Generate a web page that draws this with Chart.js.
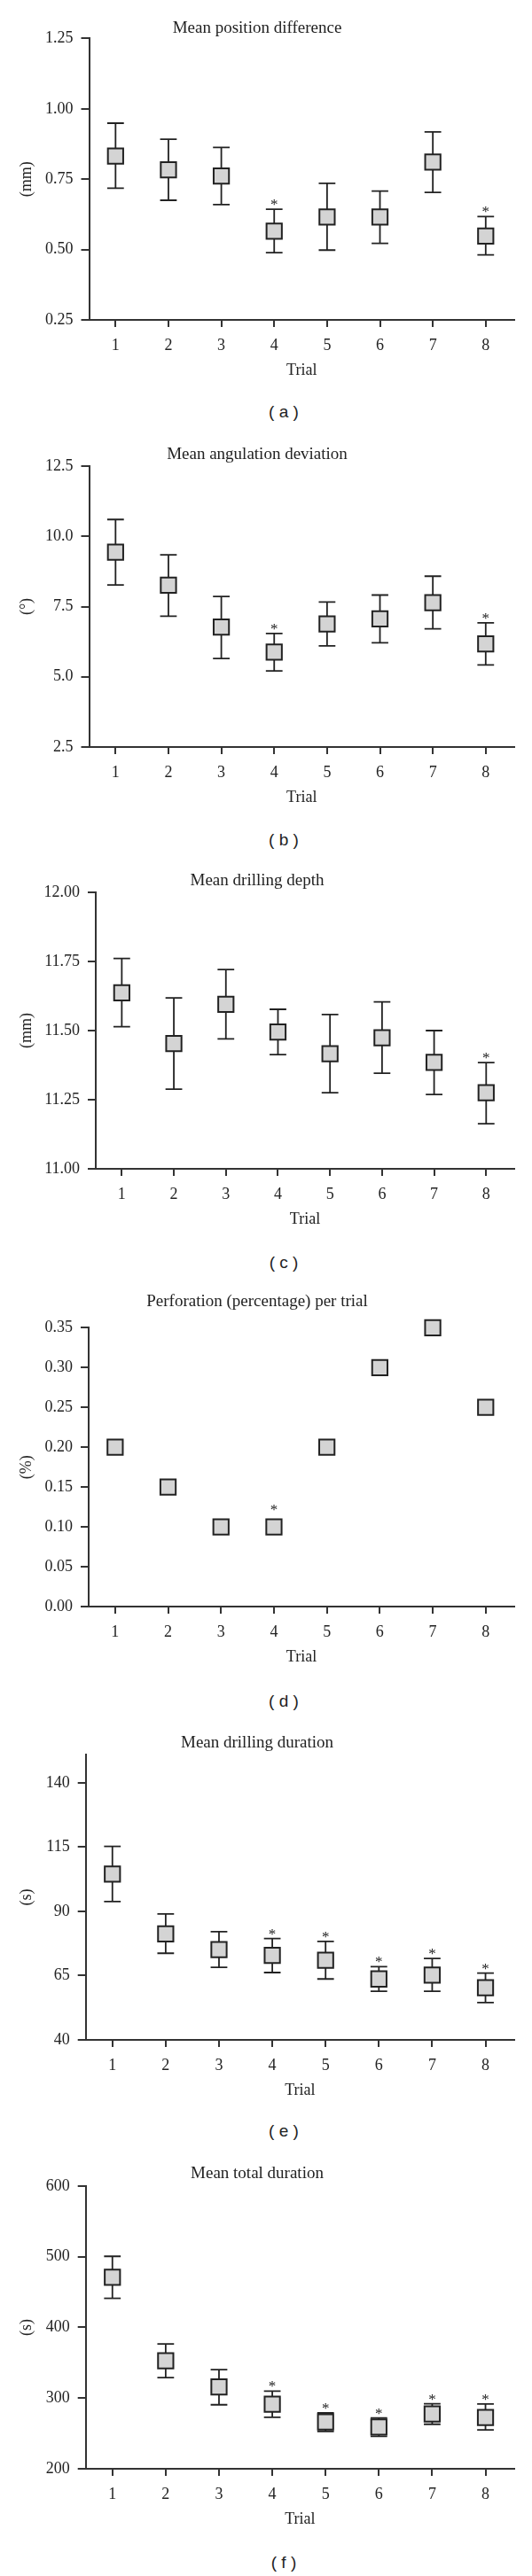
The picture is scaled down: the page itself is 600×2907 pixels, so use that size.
<!DOCTYPE html>
<html lang="en">
  <head>
    <meta charset="UTF-8" />
    <meta name="viewport" content="width=device-width, initial-scale=1.0" />
    <title>Trial results</title>
    <script src="https://cdn.jsdelivr.net/npm/chart.js"></script>
    <style>
      body {
        margin: 0;
        background-color: #ffffff;
      }
      .page {
        position: relative;
        width: 600px;
        height: 2907px;
      }
      .panel {
        position: absolute;
        left: 0;
        width: 600px;
      }
      .caption {
        position: absolute;
        left: 220px;
        width: 200px;
        text-align: center;
        font-family: "Liberation Sans", Arial, sans-serif;
        font-size: 19px;
        line-height: 22px;
        color: #222;
      }
    </style>
  </head>
  <body>
    <div class="page" id="page"></div>

    <script>
      const trials = [1, 2, 3, 4, 5, 6, 7, 8];
      const trialLabels = ["1", "2", "3", "4", "5", "6", "7", "8"];

      // (a) position difference, mm
      const posMean = [0.832, 0.783, 0.761, 0.565, 0.616, 0.616, 0.811, 0.548];
      const posUpper = [0.949, 0.892, 0.863, 0.643, 0.735, 0.708, 0.918, 0.617];
      const posLower = [0.718, 0.675, 0.660, 0.489, 0.498, 0.522, 0.703, 0.481];
      const posStars = [4, 8];
      const posTicks = ["0.25", "0.50", "0.75", "1.00", "1.25"];

      // (b) angulation deviation, degrees
      const angMean = [9.44, 8.26, 6.77, 5.88, 6.88, 7.06, 7.64, 6.17];
      const angUpper = [10.6, 9.34, 7.86, 6.54, 7.66, 7.91, 8.58, 6.92];
      const angLower = [8.27, 7.16, 5.65, 5.21, 6.1, 6.21, 6.71, 5.42];
      const angStars = [4, 8];
      const angTicks = ["2.5", "5.0", "7.5", "10.0", "12.5"];

      // (c) drilling depth, mm
      const depthMean = [11.637, 11.453, 11.595, 11.495, 11.416, 11.474, 11.385, 11.275];
      const depthUpper = [11.761, 11.618, 11.721, 11.577, 11.558, 11.604, 11.5, 11.384];
      const depthLower = [11.514, 11.288, 11.47, 11.413, 11.275, 11.346, 11.269, 11.163];
      const depthStars = [8];
      const depthTicks = ["11.00", "11.25", "11.50", "11.75", "12.00"];

      // (d) perforation, %
      const perfValues = [0.2, 0.15, 0.1, 0.1, 0.2, 0.3, 0.35, 0.25];
      const perfStars = [4];
      const perfTicks = ["0.00", "0.05", "0.10", "0.15", "0.20", "0.25", "0.30", "0.35"];

      // (e) drilling duration, s
      const drillMean = [104.5, 81.2, 75.1, 72.9, 71.0, 63.7, 65.2, 60.3];
      const drillUpper = [115.3, 89.0, 82.1, 79.4, 78.3, 68.5, 71.7, 66.0];
      const drillLower = [93.8, 73.7, 68.2, 66.2, 63.7, 58.9, 58.9, 54.5];
      const drillStars = [4, 5, 6, 7, 8];
      const drillTicks = ["40", "65", "90", "115", "140"];

      // (f) total duration, s
      const totalMean = [471, 352.8, 315.7, 291.3, 266.3, 259.2, 277.5, 272.5];
      const totalUpper = [500.6, 376.6, 340.3, 310, 279, 272, 292, 291.7];
      const totalLower = [441.3, 329, 290.6, 272.9, 253, 246, 263, 255];
      const totalStars = [4, 5, 6, 7, 8];
      const totalTicks = ["200", "300", "400", "500", "600"];

      const panels = [
        { title: "Mean position difference", unit: "(mm)", caption: "( a )", mean: posMean, upper: posUpper, lower: posLower, stars: posStars, ticks: posTicks },
        { title: "Mean angulation deviation", unit: "(°)", caption: "( b )", mean: angMean, upper: angUpper, lower: angLower, stars: angStars, ticks: angTicks },
        { title: "Mean drilling depth", unit: "(mm)", caption: "( c )", mean: depthMean, upper: depthUpper, lower: depthLower, stars: depthStars, ticks: depthTicks },
        { title: "Perforation (percentage) per trial", unit: "(%)", caption: "( d )", mean: perfValues, stars: perfStars, ticks: perfTicks },
        { title: "Mean drilling duration", unit: "(s)", caption: "( e )", mean: drillMean, upper: drillUpper, lower: drillLower, stars: drillStars, ticks: drillTicks, yMax: 151 },
        { title: "Mean total duration", unit: "(s)", caption: "( f )", mean: totalMean, upper: totalUpper, lower: totalLower, stars: totalStars, ticks: totalTicks },
      ];

      // where each panel sits on the page
      const placement = [
        { titleY: 32, plotTop: 43.3, axisY: 361, axisX: 100.5, captionY: 465 },
        { titleY: 513, plotTop: 526, axisY: 843, axisX: 100.5, captionY: 948 },
        { titleY: 994, plotTop: 1007, axisY: 1319, axisX: 108, captionY: 1425 },
        { titleY: 1469, plotTop: 1498.3, axisY: 1813, axisX: 100, captionY: 1920 },
        { titleY: 1967, plotTop: 1980, axisY: 2302, axisX: 96.7, captionY: 2405 },
        { titleY: 2453, plotTop: 2467, axisY: 2786, axisX: 96.7, captionY: 2892 },
      ];

      const serif = '"Liberation Serif", "Times New Roman", serif';
      const ink = "#222";
      const axisColor = "#333";
      const boxHalf = 9.6;
      const capHalf = 9.4;

      const errorBars = {
        id: "errorBars",
        beforeDatasetsDraw(chart, args, opts) {
          if (!opts.upper) return;
          const { ctx } = chart;
          const x = chart.scales.x;
          const y = chart.scales.y;
          ctx.save();
          ctx.strokeStyle = ink;
          ctx.lineWidth = 1.8;
          opts.upper.forEach((u, i) => {
            const px = x.getPixelForValue(trials[i]);
            const top = y.getPixelForValue(u);
            const bot = y.getPixelForValue(opts.lower[i]);
            ctx.beginPath();
            ctx.moveTo(px, top);
            ctx.lineTo(px, bot);
            ctx.moveTo(px - capHalf, top);
            ctx.lineTo(px + capHalf, top);
            ctx.moveTo(px - capHalf, bot);
            ctx.lineTo(px + capHalf, bot);
            ctx.stroke();
          });
          ctx.restore();
        },
        afterDatasetsDraw(chart, args, opts) {
          const { ctx } = chart;
          const x = chart.scales.x;
          const y = chart.scales.y;
          const pts = chart.data.datasets[0].data;
          ctx.save();
          ctx.fillStyle = ink;
          ctx.font = "17px " + serif;
          ctx.textAlign = "center";
          ctx.textBaseline = "alphabetic";
          opts.stars.forEach((t) => {
            const i = trials.indexOf(t);
            const px = x.getPixelForValue(t);
            const boxTop = y.getPixelForValue(pts[i].y) - boxHalf;
            let top = boxTop;
            let gap = 12.5;
            if (opts.upper) {
              top = Math.min(boxTop, y.getPixelForValue(opts.upper[i]));
              gap = 8.5;
            }
            ctx.fillText("*", px, top - gap + 8.5);
          });
          ctx.restore();
        },
      };

      const page = document.getElementById("page");

      function drawPanel(p, L) {
        const top = Math.round(L.titleY - 20);
        const height = L.axisY + 68 - top;

        const wrap = document.createElement("div");
        wrap.className = "panel";
        wrap.style.top = top + "px";
        wrap.style.height = height + "px";
        const canvas = document.createElement("canvas");
        wrap.appendChild(canvas);
        page.appendChild(wrap);

        const cap = document.createElement("div");
        cap.className = "caption";
        cap.style.top = L.captionY - 11 + "px";
        cap.textContent = p.caption;
        page.appendChild(cap);

        const yMin = Number(p.ticks[0]);
        const yMax = p.yMax || Number(p.ticks[p.ticks.length - 1]);

        new Chart(canvas, {
          type: "scatter",
          data: {
            datasets: [
              {
                data: trials.map((t, i) => ({ x: t, y: p.mean[i] })),
                pointStyle: "rect",
                pointRadius: 12.2,
                pointHoverRadius: 12.2,
                borderWidth: 2,
                backgroundColor: "#d4d4d4",
                borderColor: ink,
                clip: false,
              },
            ],
          },
          options: {
            responsive: true,
            maintainAspectRatio: false,
            animation: false,
            events: [],
            layout: { padding: { left: 0, right: 20, top: 0, bottom: 0 } },
            plugins: {
              legend: { display: false },
              tooltip: { enabled: false },
              title: {
                display: true,
                text: p.title,
                color: ink,
                font: { family: serif, size: 19, weight: "normal" },
                padding: {
                  top: L.titleY - 11.4 - top,
                  bottom: Math.max(0, L.plotTop - L.titleY - 11.4),
                },
              },
              errorBars: { upper: p.upper, lower: p.lower, stars: p.stars },
            },
            scales: {
              x: {
                type: "linear",
                min: 0.5,
                max: 8.54,
                afterBuildTicks: (s) => {
                  s.ticks = trials.map((v) => ({ value: v }));
                },
                afterFit: (s) => {
                  s.height = 68;
                },
                grid: { drawOnChartArea: false, tickLength: 8, color: axisColor, lineWidth: 2 },
                border: { display: true, color: axisColor, width: 2 },
                ticks: {
                  padding: 10,
                  color: ink,
                  maxRotation: 0,
                  autoSkip: false,
                  font: { family: serif, size: 18 },
                  callback: (v, i) => trialLabels[i],
                },
                title: {
                  display: true,
                  text: "Trial",
                  color: ink,
                  font: { family: serif, size: 18 },
                  padding: { top: 0, bottom: 0 },
                },
              },
              y: {
                type: "linear",
                min: yMin,
                max: yMax,
                afterBuildTicks: (s) => {
                  s.ticks = p.ticks.map((v) => ({ value: Number(v) }));
                },
                afterFit: (s) => {
                  s.width = L.axisX;
                },
                grid: { drawOnChartArea: false, tickLength: 9, color: axisColor, lineWidth: 2 },
                border: { display: true, color: axisColor, width: 2 },
                ticks: {
                  padding: 9,
                  color: ink,
                  autoSkip: false,
                  font: { family: serif, size: 18 },
                  callback: (v, i) => p.ticks[i],
                },
                title: {
                  display: true,
                  text: p.unit,
                  color: ink,
                  font: { family: serif, size: 18 },
                  padding: { top: 19.2, bottom: 0 },
                },
              },
            },
          },
          plugins: [errorBars],
        });
      }

      panels.forEach((p, i) => drawPanel(p, placement[i]));
    </script>
  </body>
</html>
